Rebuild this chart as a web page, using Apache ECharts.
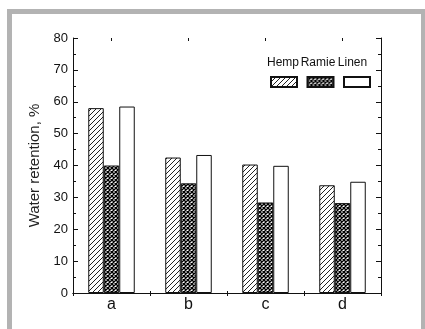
<!DOCTYPE html>
<html>
<head>
<meta charset="utf-8">
<script src="https://cdn.jsdelivr.net/npm/echarts@6/dist/echarts.min.js"></script>
<style>
html,body{margin:0;padding:0;background:#fff;}
#chart{width:425px;height:329px;}
</style>
</head>
<body>
<div id="chart"></div>
<script>
var categories = ['a', 'b', 'c', 'd'];
var seriesNames = ['Hemp', 'Ramie', 'Linen'];
var hemp = [58, 42.5, 40.3, 33.8];
var ramie = [40, 34.4, 28.4, 28.2];
var linen = [58.5, 43.3, 39.9, 34.9];
var yTicks = [0, 10, 20, 30, 40, 50, 60, 70, 80];

function hatchPattern() {
  var c = document.createElement('canvas');
  c.width = 5; c.height = 5;
  var g = c.getContext('2d');
  g.fillStyle = '#fff'; g.fillRect(0, 0, 5, 5);
  g.strokeStyle = '#222'; g.lineWidth = 1;
  g.beginPath();
  g.moveTo(-1, 6); g.lineTo(6, -1);
  g.moveTo(-1, 1); g.lineTo(1, -1);
  g.moveTo(4, 6); g.lineTo(6, 4);
  g.stroke();
  return c;
}
function crossPattern() {
  var c = document.createElement('canvas');
  c.width = 4; c.height = 4;
  var g = c.getContext('2d');
  g.fillStyle = '#fff'; g.fillRect(0, 0, 4, 4);
  g.strokeStyle = '#000'; g.lineWidth = 1.4;
  g.beginPath();
  g.moveTo(-1, -1); g.lineTo(5, 5);
  g.moveTo(5, -1); g.lineTo(-1, 5);
  g.stroke();
  return c;
}

var chart = echarts.init(document.getElementById('chart'), null, {renderer: 'canvas'});
var fontFam = 'Liberation Sans, Arial, sans-serif';
var barCommon = {
  type: 'bar',
  barWidth: 15.5,
  barGap: '0%',
  xAxisIndex: 0,
  yAxisIndex: 0
};
var legendLabel = function (name, cx) {
  return {
    type: 'text', x: cx, y: 63,
    style: {text: name, fontSize: 12, fontFamily: fontFam, fill: '#111', textAlign: 'center', textVerticalAlign: 'middle'}
  };
};
var option = {
  animation: false,
  backgroundColor: '#fff',
  grid: {left: 73, right: 44, top: 38, bottom: 36, containLabel: false},
  legend: {
    data: seriesNames,
    left: 270,
    top: 76,
    itemWidth: 26,
    itemHeight: 10,
    itemGap: 8.5,
    icon: 'rect',
    padding: 0,
    formatter: function () { return ''; },
    textStyle: {fontSize: 1},
    selectedMode: false
  },
  xAxis: [
    {
      type: 'category', data: categories, position: 'bottom',
      axisLine: {lineStyle: {color: '#111', width: 1}},
      axisTick: {show: true, inside: true, length: 2, lineStyle: {color: '#111'}},
      axisLabel: {color: '#111', fontSize: 16, fontFamily: fontFam, margin: 4},
      splitLine: {show: false}
    },
    {
      type: 'category', data: categories, position: 'top',
      axisLine: {lineStyle: {color: '#111', width: 1}},
      axisTick: {show: true, inside: true, length: 3, lineStyle: {color: '#111'}},
      axisLabel: {show: false},
      splitLine: {show: false}
    },
    {
      type: 'category', data: categories, position: 'top',
      axisLine: {show: false},
      axisTick: {show: true, inside: true, alignWithLabel: true, length: 3, lineStyle: {color: '#111'}},
      axisLabel: {show: false},
      splitLine: {show: false}
    }
  ],
  yAxis: [
    {
      type: 'value', min: yTicks[0], max: yTicks[yTicks.length - 1], interval: 10,
      name: 'Water retention, %',
      nameLocation: 'middle',
      nameGap: 28,
      nameTextStyle: {color: '#222', fontSize: 15, fontFamily: fontFam},
      axisLine: {show: true, lineStyle: {color: '#111', width: 1}},
      axisTick: {show: true, inside: true, length: 5, lineStyle: {color: '#111'}},
      minorTick: {show: true, splitNumber: 2, length: 3, lineStyle: {color: '#111'}},
      axisLabel: {color: '#111', fontSize: 13, fontFamily: fontFam, margin: 5},
      splitLine: {show: false}
    },
    {
      type: 'value', min: yTicks[0], max: yTicks[yTicks.length - 1], interval: 10, position: 'right',
      axisLine: {show: true, lineStyle: {color: '#111', width: 1}},
      axisTick: {show: true, inside: true, length: 5, lineStyle: {color: '#111'}},
      minorTick: {show: true, splitNumber: 2, length: 3, lineStyle: {color: '#111'}},
      axisLabel: {show: false},
      splitLine: {show: false}
    }
  ],
  series: [
    Object.assign({}, barCommon, {
      name: seriesNames[0], data: hemp,
      itemStyle: {color: {image: hatchPattern(), repeat: 'repeat'}, borderColor: '#111', borderWidth: 1}
    }),
    Object.assign({}, barCommon, {
      name: seriesNames[1], data: ramie,
      itemStyle: {color: {image: crossPattern(), repeat: 'repeat'}, borderColor: '#111', borderWidth: 1}
    }),
    Object.assign({}, barCommon, {
      name: seriesNames[2], data: linen,
      itemStyle: {color: '#fff', borderColor: '#111', borderWidth: 1}
    })
  ],
  graphic: [
    {
      type: 'rect', silent: true, z: 100,
      shape: {x: 9.5, y: 11.5, width: 414, height: 340},
      style: {fill: null, stroke: '#b3b3b3', lineWidth: 5}
    },
    legendLabel(seriesNames[0], 283),
    legendLabel(seriesNames[1], 318),
    legendLabel(seriesNames[2], 352.5)
  ]
};
chart.setOption(option);
</script>
</body>
</html>
